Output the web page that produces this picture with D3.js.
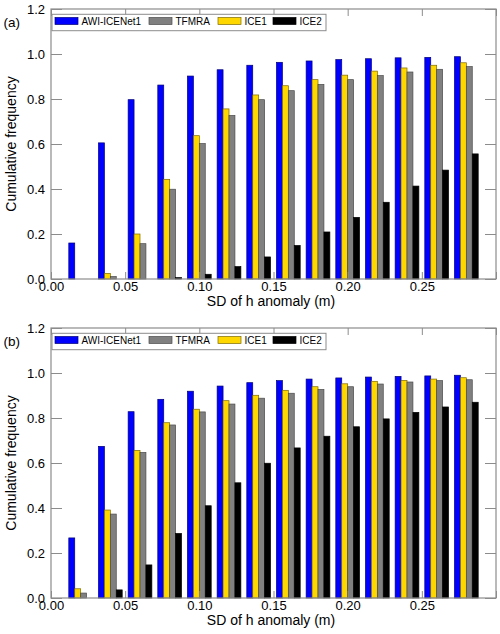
<!DOCTYPE html>
<html>
<head>
<meta charset="utf-8">
<script src="https://cdn.jsdelivr.net/npm/d3@7"></script>
<style>
  html, body { margin: 0; padding: 0; background: #fff; }
  svg { display: block; font-family: "Liberation Sans", Arial, Helvetica, sans-serif; }
</style>
</head>
<body>
<svg id="chart" width="500" height="634"></svg>
<script>
// ---------------- DATA ----------------
const binCenters = [0.02, 0.04, 0.06, 0.08, 0.10, 0.12, 0.14, 0.16, 0.18, 0.20, 0.22, 0.24, 0.26, 0.28];
const seriesNames = ["AWI-ICENet1", "TFMRA", "ICE1", "ICE2"];
const barOrder = ["AWI-ICENet1", "ICE1", "TFMRA", "ICE2"];
const seriesColors = ["#0000ff", "#808080", "#ffd700", "#000000"];
const seriesStrokes = ["#00007a", "#4a4a4a", "#7d6a00", "#000000"];

// Panel (a)
const aAWI   = [0.16, 0.605, 0.797, 0.862, 0.902, 0.930, 0.950, 0.963, 0.969, 0.975, 0.979, 0.983, 0.985, 0.988];
const aTFMRA = [0.0, 0.011, 0.157, 0.399, 0.602, 0.727, 0.797, 0.837, 0.865, 0.886, 0.904, 0.920, 0.932, 0.944];
const aICE1  = [0.0, 0.025, 0.200, 0.443, 0.637, 0.756, 0.818, 0.859, 0.886, 0.906, 0.924, 0.938, 0.950, 0.961];
const aICE2  = [0.0, 0.0, 0.0, 0.006, 0.021, 0.055, 0.098, 0.149, 0.209, 0.274, 0.341, 0.413, 0.484, 0.556];

// Panel (b)
const bAWI   = [0.267, 0.674, 0.828, 0.883, 0.919, 0.942, 0.957, 0.966, 0.973, 0.978, 0.982, 0.985, 0.987, 0.990];
const bTFMRA = [0.022, 0.373, 0.647, 0.769, 0.827, 0.862, 0.888, 0.910, 0.927, 0.939, 0.951, 0.960, 0.966, 0.970];
const bICE1  = [0.041, 0.391, 0.656, 0.779, 0.839, 0.877, 0.901, 0.923, 0.939, 0.952, 0.963, 0.967, 0.973, 0.979];
const bICE2  = [0.0, 0.036, 0.147, 0.287, 0.410, 0.512, 0.599, 0.667, 0.719, 0.761, 0.796, 0.825, 0.849, 0.870];

const xTicks = [0.00, 0.05, 0.10, 0.15, 0.20, 0.25, 0.30];
const xTickLabels = ["0.00", "0.05", "0.10", "0.15", "0.20", "0.25", ""];
const yTicks = [0.0, 0.2, 0.4, 0.6, 0.8, 1.0, 1.2];
const yTickLabels = ["0.0", "0.2", "0.4", "0.6", "0.8", "1.0", "1.2"];
const xTitle = "SD of h anomaly (m)";
const yTitle = "Cumulative frequency";
const panelLabels = ["(a)", "(b)"];

// ---------------- DRAW ----------------
const svg = d3.select("#chart");
const left = 51, right = 496;
const panels = [
  { top: 9,   bottom: 279, label: panelLabels[0], data: [aAWI, aTFMRA, aICE1, aICE2] },
  { top: 328, bottom: 598, label: panelLabels[1], data: [bAWI, bTFMRA, bICE1, bICE2] }
];
const frameColor = "#8c8c8c";

const x = d3.scaleLinear().domain([0, 0.30]).range([left, right]);
const groupW = x(0.016) - x(0);
const inner = d3.scaleBand().domain(barOrder).range([-groupW / 2, groupW / 2]).padding(0);

panels.forEach(p => {
  const y = d3.scaleLinear().domain([0, 1.2]).range([p.bottom, p.top]);
  const g = svg.append("g");

  // bars
  barOrder.forEach(name => {
    const si = seriesNames.indexOf(name);
    const vals = p.data[si];
    g.append("g").selectAll("rect")
      .data(binCenters.map((c, i) => ({ c, v: vals[i] })).filter(d => d.v > 0))
      .join("rect")
      .attr("x", d => x(d.c) + inner(name))
      .attr("width", inner.bandwidth())
      .attr("y", d => y(d.v))
      .attr("height", d => y(0) - y(d.v))
      .attr("fill", seriesColors[si])
      .attr("stroke", seriesStrokes[si])
      .attr("stroke-width", 0.7);
  });

  // axes
  const axLeft = d3.axisLeft(y).tickValues(yTicks).tickSize(-11).tickPadding(6)
    .tickFormat((d, i) => yTickLabels[i]);
  const axRight = d3.axisRight(y).tickValues(yTicks).tickSize(-11).tickFormat("");
  const axBottom = d3.axisBottom(x).tickValues(xTicks).tickSize(-7).tickPadding(3)
    .tickFormat((d, i) => xTickLabels[i]);
  const axTop = d3.axisTop(x).tickValues(xTicks).tickSize(-7).tickFormat("");

  const gl = g.append("g").attr("transform", `translate(${left},0)`).call(axLeft);
  const gr = g.append("g").attr("transform", `translate(${right},0)`).call(axRight);
  const gb = g.append("g").attr("transform", `translate(0,${p.bottom})`).call(axBottom);
  const gt = g.append("g").attr("transform", `translate(0,${p.top})`).call(axTop);
  [gl, gr, gb, gt].forEach(a => {
    a.select(".domain").remove();
    a.selectAll(".tick line").attr("stroke", frameColor).attr("stroke-width", 1);
    a.selectAll(".tick text").attr("fill", "#000").attr("font-size", 13)
      .attr("font-family", "'Liberation Sans', Arial, sans-serif");
  });

  // frame
  g.append("rect").attr("x", left).attr("y", p.top)
    .attr("width", right - left).attr("height", p.bottom - p.top)
    .attr("fill", "none").attr("stroke", frameColor).attr("stroke-width", 1.2);

  // legend
  const lg = g.append("g").attr("transform", `translate(0,${p.top})`);
  lg.append("rect").attr("x", 52).attr("y", 5.3).attr("width", 274).attr("height", 16.4)
    .attr("fill", "#fff").attr("stroke", frameColor).attr("stroke-width", 1);
  const swX = [55, 149, 218, 273];
  seriesNames.forEach((name, i) => {
    lg.append("rect").attr("x", swX[i]).attr("y", 8.5).attr("width", 23).attr("height", 7)
      .attr("fill", seriesColors[i]).attr("stroke", seriesStrokes[i]).attr("stroke-width", 0.7);
    lg.append("text").attr("x", swX[i] + 26.5).attr("y", 16.3)
      .attr("font-size", 10).attr("fill", "#000").text(name);
  });

  // panel label
  g.append("text").attr("x", 3.5).attr("y", p.top + 18).attr("font-size", 13.5)
    .attr("fill", "#000").text(p.label);

  // y title
  g.append("text")
    .attr("transform", `translate(16,${(p.top + p.bottom) / 2}) rotate(-90)`)
    .attr("text-anchor", "middle").attr("font-size", 14).attr("fill", "#000")
    .text(yTitle);

  // x title
  g.append("text").attr("x", 271).attr("y", p.bottom + 27)
    .attr("text-anchor", "middle").attr("font-size", 14).attr("fill", "#000")
    .text(xTitle);
});
</script>
</body>
</html>
